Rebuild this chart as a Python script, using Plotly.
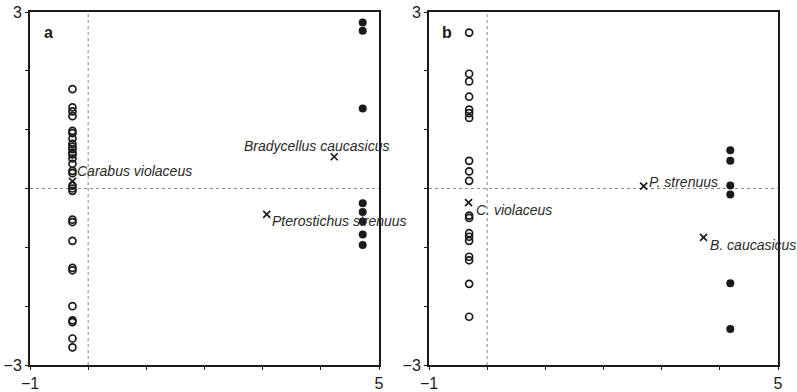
import plotly.graph_objects as go

# ---------------- data ----------------
# panel a
a_open_x = -0.27
a_open_y = [1.69, 1.38, 1.31, 1.23, 0.98, 0.94, 0.85, 0.76, 0.71, 0.67, 0.61, 0.58,
            0.51, 0.42, 0.30, 0.26, 0.05, 0.00, -0.04, -0.53, -0.57, -0.89, -1.35,
            -1.39, -2.00, -2.24, -2.27, -2.55, -2.70]
a_fill_x = 4.72
a_fill_y = [2.82, 2.68, 1.36, -0.25, -0.40, -0.56, -0.78, -0.96]
a_species = ["Carabus violaceus", "Bradycellus caucasicus", "Pterostichus strenuus"]
a_sp_x = [-0.27, 4.23, 3.07]
a_sp_y = [0.12, 0.54, -0.44]

# panel b
b_open_x = -0.31
b_open_y = [2.65, 1.95, 1.82, 1.56, 1.34, 1.28, 1.20, 0.47, 0.29, 0.13, -0.46, -0.50,
            -0.76, -0.82, -0.89, -1.16, -1.22, -1.62, -2.18]
b_fill_x = 4.18
b_fill_y = [0.65, 0.47, 0.05, -0.10, -1.61, -2.39]
b_species = ["C. violaceus", "P. strenuus", "B. caucasicus"]
b_sp_x = [-0.32, 2.69, 3.72]
b_sp_y = [-0.24, 0.04, -0.83]

x_ticks = [-1, 0, 1, 2, 3, 4, 5]
x_ticktext = ["\u22121", "", "", "", "", "", "5"]
y_ticks = [-3, -2, -1, 0, 1, 2, 3]
y_ticktext = ["\u22123", "", "", "", "", "", "3"]
panel_labels = ["a", "b"]

# label offsets (pixels): (xanchor, xshift, yshift)
a_label_pos = [("left", 3, 10), ("center", -17, 11), ("left", 3, -7)]
b_label_pos = [("left", 5, -7), ("left", 3, 4), ("left", 4, -8)]

# ---------------- figure ----------------
INK = "#1a1a1a"
FONT = "Liberation Sans, Arial, sans-serif"

fig = go.Figure()

def add_panel(xa, ya, ox, oy, fx, fy, sx, sy):
    fig.add_trace(go.Scatter(
        x=[ox] * len(oy), y=oy, mode="markers", xaxis=xa, yaxis=ya,
        marker=dict(symbol="circle-open", size=7, color=INK, line=dict(width=1.7, color=INK)),
        showlegend=False, hoverinfo="skip"))
    fig.add_trace(go.Scatter(
        x=[fx] * len(fy), y=fy, mode="markers", xaxis=xa, yaxis=ya,
        marker=dict(symbol="circle", size=8, color=INK, line=dict(width=0)),
        showlegend=False, hoverinfo="skip"))
    fig.add_trace(go.Scatter(
        x=sx, y=sy, mode="markers", xaxis=xa, yaxis=ya,
        marker=dict(symbol="x-thin", size=7, color=INK, line=dict(width=1.7, color=INK)),
        showlegend=False, hoverinfo="skip"))

add_panel("x", "y", a_open_x, a_open_y, a_fill_x, a_fill_y, a_sp_x, a_sp_y)
add_panel("x2", "y2", b_open_x, b_open_y, b_fill_x, b_fill_y, b_sp_x, b_sp_y)

annotations = []
for names, xs, ys, pos, xr, yr in [
    (a_species, a_sp_x, a_sp_y, a_label_pos, "x", "y"),
    (b_species, b_sp_x, b_sp_y, b_label_pos, "x2", "y2"),
]:
    for n, xv, yv, (anc, dx, dy) in zip(names, xs, ys, pos):
        annotations.append(dict(
            x=xv, y=yv, xref=xr, yref=yr, text="<i>" + n + "</i>", showarrow=False,
            xanchor=anc, yanchor="middle", xshift=dx, yshift=dy,
            font=dict(family=FONT, size=14, color="#2a2a2a")))

for lab, xr, yr in zip(panel_labels, ["x domain", "x2 domain"], ["y domain", "y2 domain"]):
    annotations.append(dict(
        x=0.052, y=0.943, xref=xr, yref=yr, text="<b>" + lab + "</b>", showarrow=False,
        xanchor="center", yanchor="middle",
        font=dict(family=FONT, size=16, color=INK)))

shapes = []
for xr, yr in [("x", "y"), ("x2", "y2")]:
    shapes.append(dict(type="line", xref=xr, yref=yr + " domain", x0=0, x1=0, y0=0, y1=1,
                       line=dict(color="#888888", width=1, dash="dot"), layer="below"))
    shapes.append(dict(type="line", xref=xr + " domain", yref=yr, x0=0, x1=1, y0=0, y1=0,
                       line=dict(color="#888888", width=1, dash="dot"), layer="below"))

W, H = 797, 392
axis_common = dict(
    showline=True, linecolor=INK, linewidth=2, mirror=True,
    showgrid=False, zeroline=False, automargin=False,
    ticks="outside", ticklen=3, tickwidth=1, tickcolor=INK,
    tickfont=dict(family=FONT, size=16, color=INK),
)

fig.update_layout(
    width=W, height=H,
    margin=dict(l=0, r=0, t=12, b=27),
    paper_bgcolor="white", plot_bgcolor="white",
    xaxis=dict(domain=[30 / W, 379 / W], range=[-1, 5], tickvals=x_ticks,
               ticktext=x_ticktext, anchor="y", **axis_common),
    yaxis=dict(domain=[0, 1], range=[-3, 3], tickvals=y_ticks,
               ticktext=y_ticktext, anchor="x", **axis_common),
    xaxis2=dict(domain=[429 / W, 778 / W], range=[-1, 5], tickvals=x_ticks,
                ticktext=x_ticktext, anchor="y2", **axis_common),
    yaxis2=dict(domain=[0, 1], range=[-3, 3], tickvals=y_ticks,
                ticktext=y_ticktext, anchor="x2", **axis_common),
    annotations=annotations,
    shapes=shapes,
)

fig.write_html("out.html")
